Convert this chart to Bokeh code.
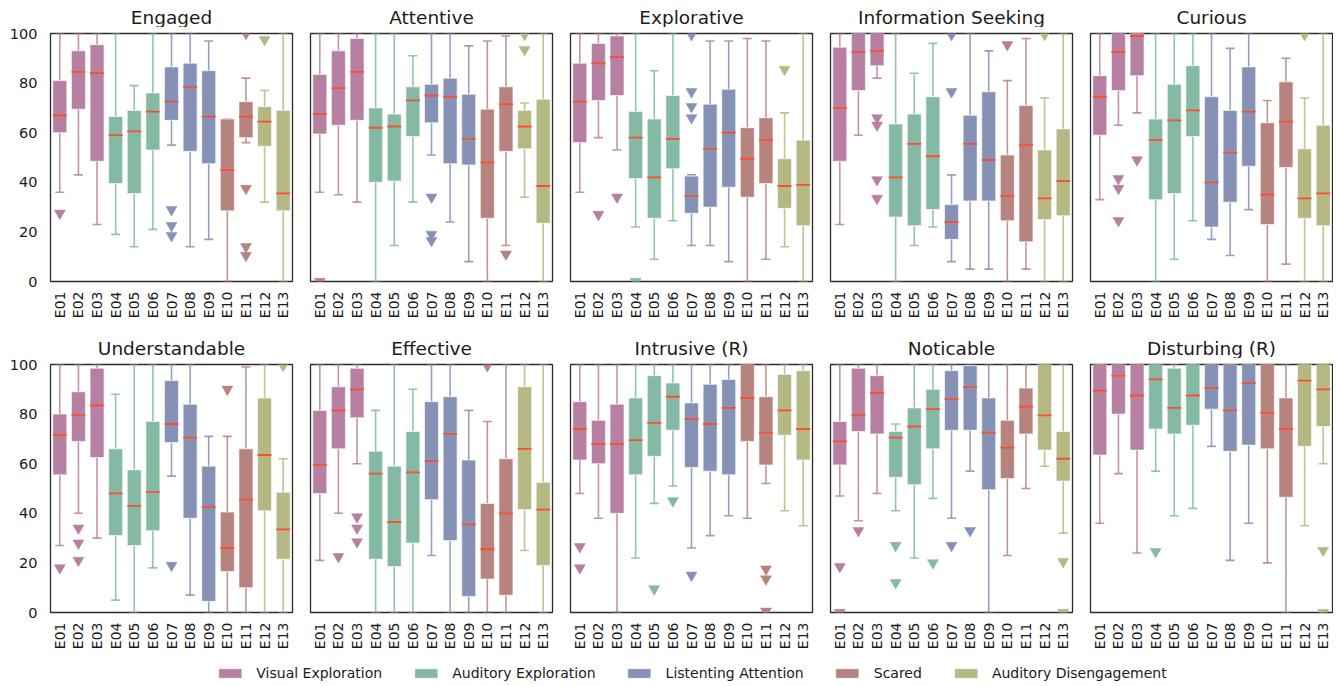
import math
from bokeh.plotting import figure
from bokeh.models import ColumnDataSource, Range1d, FixedTicker, Legend, LegendItem
from bokeh.core.properties import value
from bokeh.layouts import column, row
from bokeh.embed import file_html
from bokeh.resources import INLINE

CATEGORIES = ["E01", "E02", "E03", "E04", "E05", "E06", "E07", "E08", "E09", "E10", "E11", "E12", "E13"]
GROUPS = ["Visual Exploration", "Auditory Exploration", "Listenting Attention", "Scared", "Auditory Disengagement"]
GROUP_OF_CATEGORY = [0, 0, 0, 1, 1, 1, 2, 2, 2, 3, 3, 4, 4]
GROUP_COLORS = ["#b77fa1", "#84b9a3", "#8592b6", "#b6837f", "#b5b883"]
MEDIAN_COLOR = "#fc4f30"

TITLES = ["Engaged", "Attentive", "Explorative", "Information Seeking", "Curious",
          "Understandable", "Effective", "Intrusive (R)", "Noticable", "Disturbing (R)"]

# ---- Engaged
ENG_LOW = [36, 43, 23, 19, 14, 21, 55, 14, 17, 0, 56, 32, 0]
ENG_Q1 = [60, 69.5, 48.5, 39.5, 35.5, 53, 65, 52.5, 47.5, 28.5, 58, 54.5, 28.5]
ENG_MED = [67, 84.5, 84, 59, 60.5, 68.5, 72.5, 78.5, 66.5, 45, 66.5, 64.5, 35.5]
ENG_Q3 = [81, 93, 95.5, 66.5, 69, 76, 86.5, 88, 85, 65.5, 72.5, 70.5, 69]
ENG_HIGH = [100, 100, 100, 100, 79, 100, 100, 100, 97, 65.5, 82, 77, 100]
ENG_OUT = {"E01": [27.5], "E07": [29, 22.5, 18.5], "E11": [100, 37.5, 14, 10.5], "E12": [97.5]}

# ---- Attentive
ATT_LOW = [36, 35, 32, 0, 14.5, 32, 51, 24, 8, 0, 14.5, 34, 0]
ATT_Q1 = [59.5, 63, 65, 40, 40.5, 58.5, 64, 47.5, 47, 25.5, 52.5, 53.5, 23.5]
ATT_MED = [67.5, 78, 84.5, 62, 62.5, 73, 75, 74.5, 57.5, 48, 71.5, 62.5, 38.5]
ATT_Q3 = [83.5, 93, 98, 70, 67.5, 78.5, 79.5, 82, 75.5, 69.5, 78.5, 69, 73.5]
ATT_HIGH = [100, 100, 100, 100, 100, 91, 100, 100, 95, 97, 99, 72, 100]
ATT_OUT = {"E01": [0], "E07": [34, 19, 16.5], "E11": [11], "E12": [99.5, 93.5]}

# ---- Explorative
EXP_LOW = [36, 58, 53, 22, 9, 24.5, 14.5, 14.5, 8, 0, 9, 14, 0]
EXP_Q1 = [56, 73, 75, 41.5, 25.5, 45.5, 27.5, 30, 38, 34, 39.5, 29.5, 22.5]
EXP_MED = [72.5, 88, 90.5, 58, 42, 57.5, 34.5, 53.5, 60, 49.5, 57, 38.5, 39]
EXP_Q3 = [88, 96, 99, 68.5, 65.5, 75, 42.5, 71.5, 77.5, 62, 66, 49.5, 57]
EXP_HIGH = [100, 100, 100, 100, 85, 100, 43, 97, 97, 98, 97, 68, 100]
EXP_OUT = {"E02": [27], "E03": [34], "E04": [0], "E07": [99.5, 76.5, 70.5, 66], "E12": [85.5]}

# ---- Information Seeking
INF_LOW = [23, 59, 82, 0, 14.5, 22, 8, 5, 5, 0, 5, 0, 0]
INF_Q1 = [48.5, 77, 87, 26, 22.5, 29, 17, 32.5, 32.5, 24.5, 16, 25, 26.5]
INF_MED = [70, 92.5, 93, 42, 55.5, 50.5, 24, 55.5, 49, 34.5, 55, 33.5, 40.5]
INF_Q3 = [94.5, 100, 100, 63.5, 67.5, 74.5, 31, 67, 76.5, 51, 71, 53, 61.5]
INF_HIGH = [100, 100, 100, 100, 84, 96, 43, 100, 93, 81, 98, 74, 100]
INF_OUT = {"E03": [66, 63, 41, 33.5], "E07": [99.5, 76.5], "E10": [95.5], "E12": [99.5]}

# ---- Curious
CUR_LOW = [33, 63, 68, 0, 9, 24.5, 17, 10.5, 29, 0, 7, 0, 0]
CUR_Q1 = [59, 77, 83, 33, 35.5, 58.5, 22, 32, 46.5, 23, 46, 25.5, 22.5]
CUR_MED = [74.5, 92.5, 99, 57, 65, 69, 40, 52, 68.5, 35, 64.5, 33.5, 35.5]
CUR_Q3 = [83, 100, 100, 65.5, 79.5, 87, 74.5, 69, 86.5, 64, 80.5, 53.5, 63]
CUR_HIGH = [100, 100, 100, 100, 100, 100, 100, 94, 100, 73, 90, 74, 100]
CUR_OUT = {"E02": [41.5, 37.5, 24.5], "E03": [49], "E12": [99.5]}

# ---- Understandable
UND_LOW = [27, 40, 30, 5, 0, 18, 55, 7, 0, 0, 0, 0, 0]
UND_Q1 = [55.5, 69, 62.5, 31, 27, 33, 68.5, 38, 4.5, 16.5, 10, 41, 21.5]
UND_MED = [71.5, 79.5, 83.5, 48, 43, 48.5, 76, 70.5, 42.5, 26, 45.5, 63.5, 33.5]
UND_Q3 = [80, 89, 98.5, 66, 57.5, 77, 93.5, 84, 59, 40.5, 66, 86.5, 48.5]
UND_HIGH = [100, 100, 100, 88, 100, 100, 100, 100, 71, 71, 99, 100, 62]
UND_OUT = {"E01": [18], "E02": [34, 28, 21], "E07": [19], "E10": [90], "E13": [99.5]}

# ---- Effective
EFF_LOW = [21, 40, 60, 0, 0, 0, 23, 0, 0, 0, 0, 25, 0]
EFF_Q1 = [48, 66, 78.5, 21.5, 18.5, 28, 45.5, 29, 6.5, 13.5, 7, 41.5, 19]
EFF_MED = [59.5, 81.5, 90, 56, 36.5, 56.5, 61, 72, 35.5, 25.5, 40, 66, 41.5]
EFF_Q3 = [81.5, 91, 98.5, 65, 59, 73, 85, 87, 61.5, 44, 62, 91, 52.5]
EFF_HIGH = [100, 100, 100, 81.5, 100, 90, 100, 100, 81.5, 77, 100, 100, 100]
EFF_OUT = {"E02": [22.5], "E03": [38.5, 34, 28.5], "E10": [99.5]}

# ---- Intrusive (R)
INT_LOW = [48, 38, 0, 22, 44, 51, 26, 31, 39, 38, 52, 41, 35]
INT_Q1 = [61.5, 60, 40, 55.5, 63, 73.5, 58.5, 57, 55.5, 69, 59.5, 71.5, 61.5]
INT_MED = [74, 68, 68, 69.5, 76.5, 87, 78, 76, 82.5, 86.5, 72.5, 81.5, 74]
INT_Q3 = [85, 77.5, 84, 86.5, 95.5, 92.5, 84.5, 92, 94, 100, 87, 96, 97.5]
INT_HIGH = [100, 100, 100, 100, 100, 100, 100, 100, 100, 100, 100, 100, 100]
INT_OUT = {"E01": [26.5, 18], "E05": [9.5], "E06": [45], "E07": [15], "E11": [17.5, 13.5, 0.5]}

# ---- Noticable
NOT_LOW = [47, 37, 48, 41, 22, 46, 38, 57, 0, 23, 50, 59, 32]
NOT_Q1 = [59.5, 73, 72, 54.5, 51.5, 66, 73.5, 73.5, 49.5, 54, 72, 65.5, 53]
NOT_MED = [69, 79.5, 88.5, 70.5, 75, 82, 86, 91, 72.5, 66.5, 83, 79.5, 62]
NOT_Q3 = [77, 98.5, 95.5, 73, 82.5, 90, 97.5, 99.5, 86.5, 77.5, 90.5, 100, 73]
NOT_HIGH = [100, 100, 100, 76, 100, 100, 100, 100, 100, 100, 100, 100, 100]
NOT_OUT = {"E01": [18.5, 0], "E02": [33], "E04": [27, 12], "E06": [20], "E07": [27], "E08": [33], "E13": [20.5, 0]}

# ---- Disturbing (R)
DIS_LOW = [36, 56, 24, 57, 39, 42, 67, 21, 36, 20, 0, 35, 60]
DIS_Q1 = [63.5, 80, 65.5, 74, 72, 75.5, 82, 65, 67.5, 66, 46.5, 67, 75]
DIS_MED = [89.5, 95.5, 87.5, 94, 82.5, 87.5, 90.5, 81.5, 92.5, 80.5, 74, 93.5, 90]
DIS_Q3 = [100, 100, 100, 100, 98.5, 100, 100, 100, 100, 100, 86.5, 100, 100]
DIS_HIGH = [100, 100, 100, 100, 100, 100, 100, 100, 100, 100, 100, 100, 100]
DIS_OUT = {"E04": [24.5], "E13": [25, 0]}

PANELS = [
    (ENG_LOW, ENG_Q1, ENG_MED, ENG_Q3, ENG_HIGH, ENG_OUT),
    (ATT_LOW, ATT_Q1, ATT_MED, ATT_Q3, ATT_HIGH, ATT_OUT),
    (EXP_LOW, EXP_Q1, EXP_MED, EXP_Q3, EXP_HIGH, EXP_OUT),
    (INF_LOW, INF_Q1, INF_MED, INF_Q3, INF_HIGH, INF_OUT),
    (CUR_LOW, CUR_Q1, CUR_MED, CUR_Q3, CUR_HIGH, CUR_OUT),
    (UND_LOW, UND_Q1, UND_MED, UND_Q3, UND_HIGH, UND_OUT),
    (EFF_LOW, EFF_Q1, EFF_MED, EFF_Q3, EFF_HIGH, EFF_OUT),
    (INT_LOW, INT_Q1, INT_MED, INT_Q3, INT_HIGH, INT_OUT),
    (NOT_LOW, NOT_Q1, NOT_MED, NOT_Q3, NOT_HIGH, NOT_OUT),
    (DIS_LOW, DIS_Q1, DIS_MED, DIS_Q3, DIS_HIGH, DIS_OUT),
]

FONT = "DejaVu Sans"
TEXT_COLOR = "#1a1a1a"
BOX_WIDTH = 0.75
FRAME_W, FRAME_H = 242, 248
GAP = 18            # horizontal gap between panel frames
LEFT = 50           # left border of the first column (room for y tick labels)
RIGHT = 1           # right border of the last column
TOTAL_W = LEFT + 5 * FRAME_W + 4 * GAP + RIGHT
PANEL_TOP = 6       # room above the frame inside each panel (for the "100" tick label)
STRIP_H = 27        # height of the title strip above each row


def make_panel(idx):
    low, q1, med, q3, high, outliers = PANELS[idx]
    col = idx % 5
    top_row = idx < 5
    first_col = col == 0
    last_col = col == 4
    p = figure(
        x_range=CATEGORIES, y_range=Range1d(0, 100),
        frame_width=FRAME_W, frame_height=FRAME_H,
        min_border_left=LEFT if first_col else GAP // 2,
        min_border_right=RIGHT if last_col else GAP // 2,
        min_border_top=PANEL_TOP,
        min_border_bottom=50 if top_row else 37,
        y_axis_location="left" if first_col else None,
        toolbar_location=None, output_backend="svg",
        background_fill_color="white", border_fill_color="white",
    )
    p.xgrid.visible = False
    p.ygrid.visible = False
    p.outline_line_color = "#2b2b2b"
    p.outline_line_width = 1.3
    p.outline_line_alpha = 1.0

    p.xaxis.major_label_orientation = math.pi / 2
    p.xaxis.major_tick_line_color = None
    p.xaxis.major_tick_out = 0
    p.xaxis.major_tick_in = 0
    p.xaxis.minor_tick_line_color = None
    p.xaxis.axis_line_color = None
    p.xaxis.major_label_standoff = 10
    p.xaxis.major_label_text_font = FONT
    p.xaxis.major_label_text_font_size = "14px"
    p.xaxis.major_label_text_color = TEXT_COLOR
    if first_col:
        p.yaxis.ticker = FixedTicker(ticks=[0, 20, 40, 60, 80, 100])
        p.yaxis.major_tick_line_color = None
        p.yaxis.major_tick_out = 0
        p.yaxis.major_tick_in = 0
        p.yaxis.minor_tick_line_color = None
        p.yaxis.axis_line_color = None
        p.yaxis.major_label_standoff = 13
        p.yaxis.major_label_text_font = FONT
        p.yaxis.major_label_text_font_size = "14.5px"
        p.yaxis.major_label_text_color = TEXT_COLOR

    colors = [GROUP_COLORS[g] for g in GROUP_OF_CATEGORY]
    src = ColumnDataSource(dict(
        cat=CATEGORIES, low=low, q1=q1, med=med, q3=q3, high=high, color=colors,
        left=[(c, -BOX_WIDTH / 2) for c in CATEGORIES],
        right=[(c, BOX_WIDTH / 2) for c in CATEGORIES],
    ))
    # whiskers
    p.segment(x0="cat", y0="low", x1="cat", y1="q1", source=src,
              line_color="color", line_width=1.6, line_alpha=0.85)
    p.segment(x0="cat", y0="q3", x1="cat", y1="high", source=src,
              line_color="color", line_width=1.6, line_alpha=0.85)
    # caps
    p.scatter(x="cat", y="low", source=src, marker="dash", size=9,
              line_color="color", line_width=1.6, line_alpha=0.85)
    p.scatter(x="cat", y="high", source=src, marker="dash", size=9,
              line_color="color", line_width=1.6, line_alpha=0.85)
    # boxes
    p.vbar(x="cat", top="q3", bottom="q1", width=BOX_WIDTH, source=src,
           fill_color="color", fill_alpha=1.0, line_color="white", line_alpha=0.6, line_width=1)
    # medians
    p.segment(x0="left", y0="med", x1="right", y1="med", source=src,
              line_color=MEDIAN_COLOR, line_width=1.8)
    # outliers
    ox, oy, oc = [], [], []
    for c, vals in outliers.items():
        i = CATEGORIES.index(c)
        for v in vals:
            ox.append(c)
            oy.append(v)
            oc.append(GROUP_COLORS[GROUP_OF_CATEGORY[i]])
    osrc = ColumnDataSource(dict(x=ox, y=oy, color=oc))
    p.scatter(x="x", y="y", source=osrc, marker="inverted_triangle", size=11,
              fill_color="color", line_color="color", line_width=0.5)
    return p


def make_title_strip(titles):
    # x axis of the strip is the panel index; frame spans the same pixels as the panel frames
    first_center = FRAME_W / 2
    step = FRAME_W + GAP
    frame_w = TOTAL_W - LEFT - RIGHT
    x0 = -first_center / step
    x1 = (frame_w - first_center) / step
    s = figure(width=TOTAL_W, height=STRIP_H, x_range=Range1d(x0, x1), y_range=Range1d(0, 1),
               x_axis_location=None, y_axis_location=None,
               min_border_left=LEFT, min_border_right=RIGHT, min_border_top=0, min_border_bottom=0,
               toolbar_location=None, output_backend="svg",
               background_fill_color="white", border_fill_color="white")
    s.outline_line_color = None
    s.xgrid.visible = False
    s.ygrid.visible = False
    s.text(x=list(range(len(titles))), y=[0.385] * len(titles), text=titles,
           text_align="center", text_baseline="middle",
           text_font=value(FONT), text_font_size="18.5px", text_color=TEXT_COLOR)
    return s


panels = [make_panel(i) for i in range(10)]
strip1 = make_title_strip(TITLES[:5])
strip2 = make_title_strip(TITLES[5:])

# legend strip
lf = figure(width=TOTAL_W, height=29, x_range=Range1d(0, 1), y_range=Range1d(0, 1),
            x_axis_location=None, y_axis_location=None,
            min_border_left=LEFT, min_border_right=RIGHT, min_border_top=0, min_border_bottom=0,
            toolbar_location=None, output_backend="svg",
            background_fill_color="white", border_fill_color="white")
lf.outline_line_color = None
lf.xgrid.visible = False
lf.ygrid.visible = False
items = []
for g, c in zip(GROUPS, GROUP_COLORS):
    r = lf.vbar(x=[-5], top=[-5], bottom=[-6], width=0.1, fill_color=c, line_color="white", line_alpha=0.6)
    items.append(LegendItem(label=g, renderers=[r]))
legend = Legend(items=items, orientation="horizontal", location="bottom_center",
                border_line_color=None, background_fill_alpha=0,
                glyph_width=29, glyph_height=12, label_standoff=12, spacing=29,
                label_text_font=FONT, label_text_font_size="14px", label_text_color=TEXT_COLOR,
                padding=0, margin=0)
lf.add_layout(legend, "center")

layout = column(strip1, row(*panels[:5]), strip2, row(*panels[5:]), lf)
open("out.html", "w").write(file_html(layout, INLINE))
